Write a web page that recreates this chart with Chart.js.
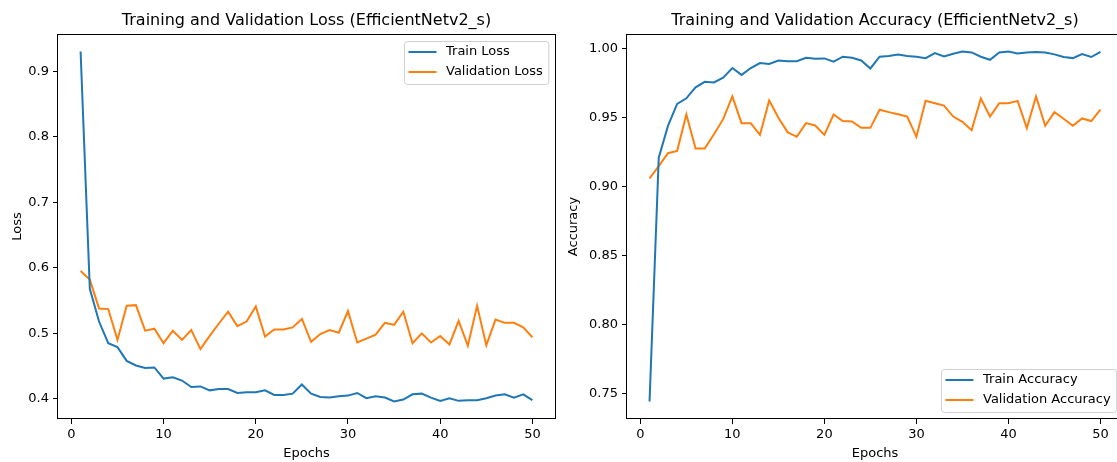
<!DOCTYPE html>
<html>
<head>
<meta charset="utf-8">
<script src="https://cdn.jsdelivr.net/npm/chart.js@4.4.1/dist/chart.umd.min.js"></script>
<style>
  html, body { margin: 0; padding: 0; background: #fff; overflow: hidden; width: 1117px; height: 462px; }
  #lossChart { position: absolute; left: 0; top: 0; }
  #accChart { position: absolute; left: 560px; top: 0; }
</style>
</head>
<body>
<canvas id="lossChart" width="560" height="462"></canvas>
<canvas id="accChart" width="570" height="462"></canvas>
<script>
const epochs = [1, 2, 3, 4, 5, 6, 7, 8, 9, 10, 11, 12, 13, 14, 15, 16, 17, 18, 19, 20,
  21, 22, 23, 24, 25, 26, 27, 28, 29, 30, 31, 32, 33, 34, 35, 36, 37, 38, 39, 40,
  41, 42, 43, 44, 45, 46, 47, 48, 49, 50];

const trainLoss = [0.930, 0.568, 0.518, 0.485, 0.479, 0.458, 0.451, 0.447, 0.448, 0.431,
  0.433, 0.428, 0.418, 0.419, 0.413, 0.415, 0.415, 0.409, 0.410, 0.410,
  0.413, 0.406, 0.406, 0.408, 0.422, 0.408, 0.403, 0.402, 0.404, 0.405,
  0.409, 0.401, 0.404, 0.402, 0.396, 0.399, 0.407, 0.408, 0.402, 0.397,
  0.401, 0.397, 0.398, 0.398, 0.401, 0.405, 0.407, 0.402, 0.407, 0.398];
const valLoss = [0.595, 0.582, 0.538, 0.537, 0.490, 0.542, 0.543, 0.504, 0.507, 0.485,
  0.504, 0.490, 0.505, 0.476, 0.496, 0.515, 0.533, 0.511, 0.518, 0.541,
  0.495, 0.506, 0.506, 0.509, 0.522, 0.487, 0.499, 0.505, 0.501, 0.534,
  0.486, 0.492, 0.498, 0.516, 0.513, 0.533, 0.485, 0.500, 0.486, 0.496,
  0.483, 0.519, 0.481, 0.542, 0.482, 0.521, 0.516, 0.516, 0.509, 0.494];
const trainAcc = [0.744, 0.921, 0.944, 0.960, 0.964, 0.972, 0.976, 0.9755, 0.979, 0.986,
  0.981, 0.986, 0.9896, 0.989, 0.9915, 0.991, 0.991, 0.9935, 0.9927, 0.993,
  0.9906, 0.9942, 0.9935, 0.9915, 0.9857, 0.9942, 0.9947, 0.9959, 0.9947, 0.9942,
  0.9932, 0.9969, 0.9944, 0.9964, 0.998, 0.9973, 0.9942, 0.992, 0.9973, 0.998,
  0.9966, 0.9973, 0.9976, 0.9973, 0.9959, 0.994, 0.9932, 0.9961, 0.994, 0.9978];
const valAcc = [0.906, 0.9148, 0.9242, 0.9259, 0.9523, 0.9276, 0.9276, 0.938, 0.9489, 0.9654,
  0.946, 0.946, 0.9375, 0.9625, 0.9499, 0.9395, 0.9361, 0.946, 0.9443, 0.9375,
  0.9523, 0.9475, 0.9472, 0.9426, 0.9426, 0.9557, 0.954, 0.9525, 0.9508, 0.9361,
  0.9622, 0.9605, 0.9588, 0.9508, 0.947, 0.9409, 0.9639, 0.9508, 0.9605, 0.9605,
  0.9622, 0.9424, 0.9654, 0.9441, 0.954, 0.9492, 0.9441, 0.9494, 0.9475, 0.9559];

const epochTicks = [0, 10, 20, 30, 40, 50];
const lossTicks = [0.4, 0.5, 0.6, 0.7, 0.8, 0.9];
const accTicks = [0.75, 0.80, 0.85, 0.90, 0.95, 1.00];

const BLUE = "#1f77b4";
const ORANGE = "#ff7f0e";
const FONT = "DejaVu Sans";

Chart.defaults.font.family = FONT;
Chart.defaults.font.size = 13;
Chart.defaults.color = "#000";

// matplotlib style 5% margins around the data
function padRange(values) {
  const lo = Math.min(...values), hi = Math.max(...values);
  const m = (hi - lo) * 0.05;
  return [lo - m, hi + m];
}

// title, frame and a legend box inside the axes
const mplDecor = {
  id: "mplDecor",
  afterDatasetsDraw(chart, args, opts) {
    const ctx = chart.ctx;
    const a = chart.chartArea;
    ctx.save();
    // frame
    ctx.strokeStyle = "#000";
    ctx.lineWidth = 1;
    ctx.strokeRect(Math.round(a.left) - 0.5, Math.round(a.top) + 0.5,
      Math.round(a.right - a.left) + 1, Math.round(a.bottom - a.top) - 1);
    // title
    ctx.fillStyle = "#000";
    ctx.font = "16px '" + FONT + "'";
    ctx.textAlign = "center";
    ctx.textBaseline = "middle";
    ctx.fillText(opts.title, (a.left + a.right) / 2, 21);
    // legend
    ctx.font = "13px '" + FONT + "'";
    const items = chart.data.datasets;
    const textW = Math.max(...items.map(d => ctx.measureText(d.label).width));
    const w = 4.5 + 28 + 9.5 + textW + 5.5;
    const h = 43;
    const x = Math.round(a.right - 7 - w);
    const y = opts.legend === "lower" ? Math.round(a.bottom - 7 - h) : Math.round(a.top + 7);
    ctx.fillStyle = "rgba(255,255,255,0.8)";
    ctx.strokeStyle = "#d0d0d0";
    ctx.beginPath();
    ctx.roundRect(x + 0.5, y + 0.5, w, h, 3);
    ctx.fill();
    ctx.stroke();
    ctx.textAlign = "left";
    items.forEach((d, i) => {
      const cy = y + 11 + i * 20;
      ctx.strokeStyle = d.borderColor;
      ctx.lineWidth = 2;
      ctx.beginPath();
      ctx.moveTo(x + 4.5, cy);
      ctx.lineTo(x + 32.5, cy);
      ctx.stroke();
      ctx.fillStyle = "#000";
      ctx.fillText(d.label, x + 42, cy);
    });
    ctx.restore();
  }
};

function makeChart(id, cfg) {
  const [xMin, xMax] = padRange(epochs);
  const [yMin, yMax] = padRange(cfg.series[0].concat(cfg.series[1]));
  return new Chart(document.getElementById(id), {
    type: "line",
    data: {
      labels: epochs,
      datasets: [
        { label: cfg.names[0], data: cfg.series[0], borderColor: BLUE, backgroundColor: BLUE,
          borderWidth: 2, pointRadius: 0, tension: 0 },
        { label: cfg.names[1], data: cfg.series[1], borderColor: ORANGE, backgroundColor: ORANGE,
          borderWidth: 2, pointRadius: 0, tension: 0 }
      ]
    },
    options: {
      responsive: false,
      animation: false,
      events: [],
      layout: { padding: { left: 0, right: cfg.padRight, top: 34, bottom: 0 } },
      plugins: {
        legend: { display: false },
        tooltip: { enabled: false },
        mplDecor: { title: cfg.title, legend: cfg.legendPos }
      },
      scales: {
        x: {
          type: "linear",
          min: xMin,
          max: xMax,
          afterBuildTicks: s => { s.ticks = epochTicks.map(v => ({ value: v })); },
          afterFit: s => { s.height = 43; },
          ticks: { padding: 3, maxRotation: 0, autoSkip: false, callback: v => String(v) },
          grid: { drawOnChartArea: false, tickLength: 5, color: "#000" },
          border: { display: false },
          title: { display: true, text: "Epochs", padding: { top: 0, bottom: 1 } }
        },
        y: {
          type: "linear",
          min: yMin,
          max: yMax,
          afterBuildTicks: s => { s.ticks = cfg.yTicks.map(v => ({ value: v })); },
          afterFit: s => { s.width = cfg.yWidth; },
          ticks: { padding: 4, callback: v => v.toFixed(cfg.digits) },
          grid: { drawOnChartArea: false, tickLength: 5, color: "#000" },
          border: { display: false },
          title: { display: true, text: cfg.yTitle, padding: { top: cfg.yTitlePad, bottom: 0 } }
        }
      }
    },
    plugins: [mplDecor]
  });
}

makeChart("lossChart", {
  title: "Training and Validation Loss (EfficientNetv2_s)",
  names: ["Train Loss", "Validation Loss"],
  series: [trainLoss, valLoss],
  yTicks: lossTicks,
  digits: 1,
  yTitle: "Loss",
  yWidth: 58,
  yTitlePad: 10,
  padRight: 5,
  legendPos: "upper"
});

makeChart("accChart", {
  title: "Training and Validation Accuracy (EfficientNetv2_s)",
  names: ["Train Accuracy", "Validation Accuracy"],
  series: [trainAcc, valAcc],
  yTicks: accTicks,
  digits: 2,
  yTitle: "Accuracy",
  yWidth: 67,
  yTitlePad: 6,
  padRight: 7,
  legendPos: "lower"
});
</script>
</body>
</html>
